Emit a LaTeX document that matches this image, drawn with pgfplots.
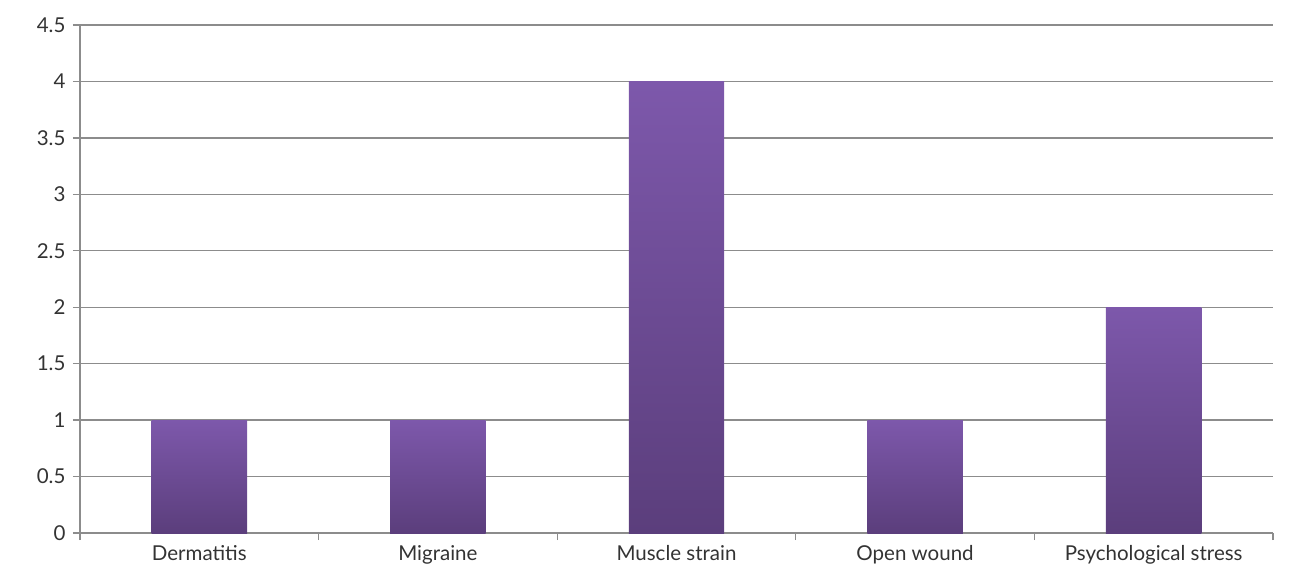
\documentclass[border=0pt]{standalone}
\usepackage{fontspec}
\setmainfont{Lato}
\usepackage{pgfplots}
\pgfplotsset{compat=1.18}
\definecolor{barTop}{HTML}{7D58AB}
\definecolor{barBot}{HTML}{5B3E7C}
\definecolor{gridc}{HTML}{8C8C8C}
\definecolor{txt}{HTML}{333333}
\pgfplotsset{
  gradbar/.style={ybar, bar width=0.4, bar shift=0pt, draw=none,
    top color=barTop, bottom color=barBot},
}
\begin{document}
\begin{tikzpicture}
\begin{axis}[
  at={(0pt,0pt)}, anchor=south west,
  scale only axis, width=1193pt, height=508pt,
  xmin=-0.5, xmax=4.5, ymin=0, ymax=4.5,
  axis x line*=bottom, axis y line*=left,
  axis line style={draw=gridc, line width=1.3pt},
  tick align=outside,
  ytick={0,0.5,1,1.5,2,2.5,3,3.5,4,4.5},
  yticklabels={0,0.5,1,1.5,2,2.5,3,3.5,4,4.5},
  ymajorgrids,
  grid style={draw=gridc, line width=1.3pt},
  major tick length=7pt,
  tick style={draw=gridc, line width=1.3pt},
  xtick={-0.5,0.5,1.5,2.5,3.5,4.5},
  xticklabels={},
  extra x ticks={0,1,2,3,4},
  extra x tick labels={Dermatitis,Migraine,Muscle strain,Open wound,Psychological stress},
  extra x tick style={major tick length=0pt, grid=none},
  tick label style={font=\fontsize{20.5}{24}\selectfont, text=txt},
  yticklabel style={xshift=-4pt},
  xticklabel style={yshift=-9pt},
]
% one plot per category so each bar carries its own gradient
\addplot[gradbar] coordinates {(0,1)};
\addplot[gradbar] coordinates {(1,1)};
\addplot[gradbar] coordinates {(2,4)};
\addplot[gradbar] coordinates {(3,1)};
\addplot[gradbar] coordinates {(4,2)};
\end{axis}
\pgfresetboundingbox
\path[use as bounding box] (-80pt,-43pt) rectangle (1211pt,533pt);
\end{tikzpicture}
\end{document}
